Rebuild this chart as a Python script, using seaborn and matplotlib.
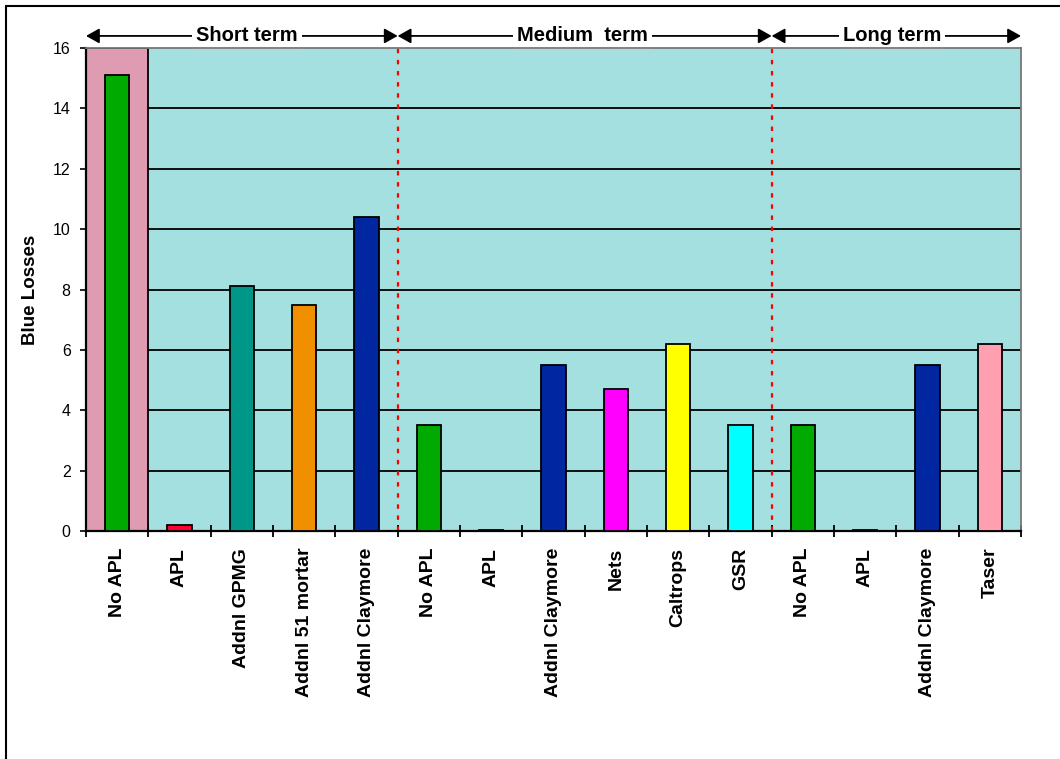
import numpy as np
import pandas as pd
import seaborn as sns
import matplotlib.pyplot as plt
from matplotlib.lines import Line2D

# chart data
options = ['No APL', 'APL', 'Addnl GPMG', 'Addnl 51 mortar', 'Addnl Claymore',
           'No APL', 'APL', 'Addnl Claymore', 'Nets', 'Caltrops', 'GSR',
           'No APL', 'APL', 'Addnl Claymore', 'Taser']
blue_losses = [15.1, 0.2, 8.1, 7.5, 10.4,
               3.5, 0.02, 5.5, 4.7, 6.2, 3.5,
               3.5, 0.02, 5.5, 6.2]
bar_colors = ['#00AA00', '#FF0030', '#009688', '#F09000', '#0026A0',
              '#00AA00', '#00AA00', '#0026A0', '#FF00FF', '#FFFF00', '#00FFFF',
              '#00AA00', '#00AA00', '#0026A0', '#FFA0B0']
terms = ['Short term', 'Medium  term', 'Long term']
term_edges = [-0.5, 4.5, 10.5, 14.5]
term_label_x = [2.08, 7.47, 12.43]
y_ticks = [0, 2, 4, 6, 8, 10, 12, 14, 16]

sns.set_style('white')
plt.rcParams['font.family'] = ['Liberation Sans', 'DejaVu Sans']
plt.rcParams['text.color'] = 'black'
plt.rcParams['xtick.color'] = 'black'
plt.rcParams['ytick.color'] = 'black'
plt.rcParams['axes.labelcolor'] = 'black'

df = pd.DataFrame({'slot': [str(i) for i in range(len(options))], 'loss': blue_losses})
palette = dict(zip(df['slot'], bar_colors))

fig = plt.figure(figsize=(10.6, 7.59), dpi=100)
ax = fig.add_axes([86 / 1060, 1 - 531 / 759, 935 / 1060, 483 / 759])
ax.set_facecolor('#A4E0E0')

sns.barplot(data=df, x='slot', y='loss', hue='slot', palette=palette, legend=False,
            width=0.39, edgecolor='black', linewidth=1.3, saturation=1, ax=ax, zorder=3)

# grid lines, pink highlight for the baseline
for y in y_ticks[1:-1]:
    ax.axhline(y, color='black', lw=1.3, zorder=0.5)
ax.axvspan(-0.5, 0.5, facecolor='#DE9BB2', edgecolor='black', lw=1.3, zorder=1)

for xb in term_edges[1:-1]:
    ax.plot([xb, xb], [0, 16], color='red', lw=1.6, ls=(0, (2, 3)), zorder=2)

ax.set_xlim(-0.5, 14.5)
ax.set_ylim(0, 16)
ax.set_yticks(y_ticks)
ax.set_yticklabels([str(v) for v in y_ticks], fontsize=11.5)
ax.tick_params(axis='y', direction='out', length=4, width=1.2, pad=7, left=True)

ax.set_xticks(range(len(options)))
ax.set_xticklabels(options, rotation=90, fontsize=14, fontweight='bold', va='top')
ax.set_xticks(np.arange(-0.5, 15, 1), minor=True)
ax.tick_params(axis='x', which='major', length=0, pad=12)
ax.tick_params(axis='x', which='minor', direction='inout', length=9, width=1.3, bottom=True)

ax.set_xlabel('')
ax.set_ylabel('Blue Losses', fontsize=13.5, fontweight='bold')
ax.yaxis.set_label_coords(-0.05, 0.5)

for side in ['left', 'bottom']:
    ax.spines[side].set_color('black')
    ax.spines[side].set_linewidth(1.6)
for side in ['top', 'right']:
    ax.spines[side].set_color('#777777')
    ax.spines[side].set_linewidth(1.3)

# term arrows above the plot
arrow_y = 16.4
for name, x0, x1, xl in zip(terms, term_edges[:-1], term_edges[1:], term_label_x):
    ax.annotate('', xy=(x0, arrow_y), xytext=(x1, arrow_y), annotation_clip=False, zorder=1.9,
                arrowprops=dict(arrowstyle='<|-|>,head_length=0.8,head_width=0.45',
                                color='black', lw=1.3, shrinkA=0, shrinkB=0))
    ax.text(xl, arrow_y, name, ha='center', va='center', fontsize=14.5, fontweight='bold',
            bbox=dict(facecolor='white', edgecolor='none', boxstyle='square,pad=0.2'),
            clip_on=False, zorder=2)

# outer frame (left and top edges visible)
fig.add_artist(Line2D([6 / 1060, 6 / 1060], [0, 1 - 6 / 759], color='black', lw=1.5))
fig.add_artist(Line2D([6 / 1060, 1], [1 - 6 / 759, 1 - 6 / 759], color='black', lw=1.5))

plt.savefig('out.png', dpi=100)
